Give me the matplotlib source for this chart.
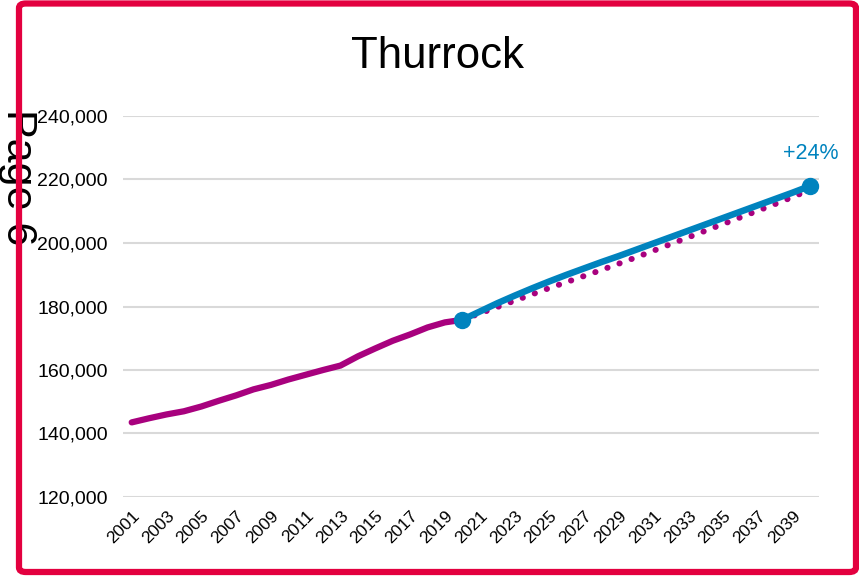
import matplotlib
matplotlib.use("Agg")
import matplotlib.pyplot as plt
from matplotlib.patches import FancyBboxPatch

plt.rcParams['font.family'] = ['Liberation Sans', 'DejaVu Sans']

title = "Thurrock"
page_label = "Page 6"
change_label = "+24%"

hist_years = list(range(2001, 2021))
hist_values = [143500, 144800, 146000, 147000, 148500, 150300, 152000, 153900,
               155300, 157000, 158500, 160000, 161400, 164300, 166800, 169200,
               171200, 173400, 175000, 175800]

proj_years = list(range(2020, 2041))
proj_values = [175800, 178400, 181000, 183400, 185700, 187900, 190000, 192000,
               194000, 195900, 197900, 199900, 201900, 203900, 205900, 207900,
               209900, 211900, 213900, 215900, 218000]
trend_values = [175800, 177800, 179800, 181800, 183800, 185800, 187700, 189600,
                191500, 193500, 195500, 197600, 199700, 201800, 203900, 206000,
                208100, 210200, 212300, 214500, 216800]

yticks = [120000, 140000, 160000, 180000, 200000, 220000, 240000]
xticks = list(range(2001, 2041, 2))

purple = "#A8017E"
blue = "#0083BE"
red = "#E3003F"

fig = plt.figure(figsize=(8.59, 5.76), dpi=100)
ax = fig.add_axes([123/859, 1 - 497/576, 696/859, 381/576])

ax.plot(hist_years, hist_values, color=purple, lw=4.5, solid_capstyle='round', zorder=3)
ax.plot(proj_years, trend_values, color=purple, lw=4.3, linestyle=(0, (0.05, 2.1)),
        dash_capstyle='round', zorder=3)
ax.plot(proj_years, proj_values, color=blue, lw=4.7, solid_capstyle='round', zorder=4)
ax.plot([proj_years[0], proj_years[-1]], [proj_values[0], proj_values[-1]],
        linestyle='none', marker='o', markersize=11.5, color=blue, zorder=5)

ax.annotate(change_label, xy=(proj_years[-1], proj_values[-1]), xytext=(0, 23),
            textcoords='offset points', ha='center', va='center', fontsize=15.5,
            color=blue, annotation_clip=False)

ax.set_xlim(2000.5, 2040.5)
ax.set_ylim(120000, 240000)
ax.set_yticks(yticks)
ax.set_yticklabels([f"{v:,}" for v in yticks], fontsize=14)
ax.set_xticks(xticks)
ax.set_xticklabels([str(y) for y in xticks], fontsize=12.5, rotation=45, ha='right',
                   rotation_mode='anchor')
ax.tick_params(axis='both', length=0)
ax.tick_params(axis='y', pad=11)
ax.tick_params(axis='x', pad=8)
ax.grid(axis='y', color='#D9D9D9', lw=1.5)
ax.set_axisbelow(True)
for s in ax.spines.values():
    s.set_visible(False)

fig.text(438/859, 1 - 56/576, title, ha='center', va='center', fontsize=31.5)
fig.text(18/859, 1 - 177/576, page_label, ha='center', va='center', fontsize=31,
         rotation=270)

border = FancyBboxPatch((19/859, 1 - 572/576), (856 - 19)/859, (572 - 3.5)/576,
                        boxstyle="round,pad=0,rounding_size=0.008",
                        transform=fig.transFigure, fill=False, edgecolor=red,
                        lw=4.5, zorder=10)
fig.patches.append(border)

fig.savefig("out.png", dpi=100)
